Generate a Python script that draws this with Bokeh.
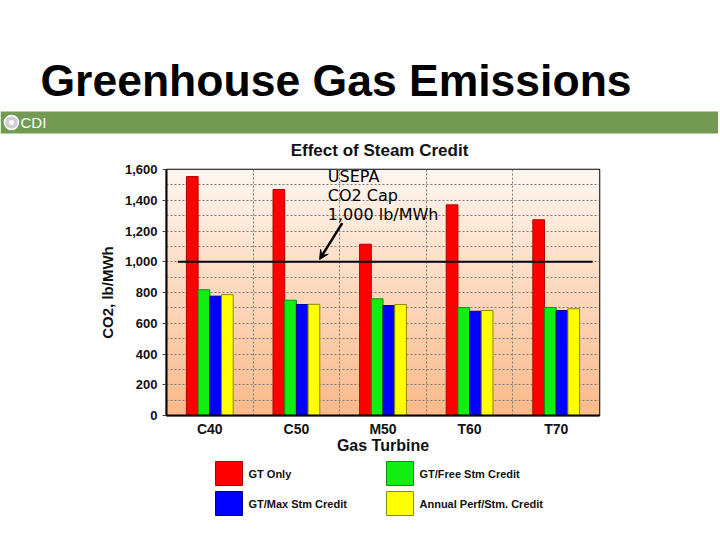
import numpy as np
from bokeh.plotting import figure
from bokeh.layouts import column
from bokeh.models import (Range1d, ColumnDataSource, Label, Arrow,
                          VeeHead, FixedTicker, NumeralTickFormatter)
from bokeh.transform import dodge
from bokeh.core.properties import value
from bokeh.embed import file_html
from bokeh.resources import INLINE

# ---------------- data ----------------
categories = ["C40", "C50", "M50", "T60", "T70"]
series_names = ["GT Only", "GT/Free Stm Credit", "GT/Max Stm Credit", "Annual Perf/Stm. Credit"]
gt_only = [1554, 1470, 1114, 1370, 1273]
gt_free_stm = [818, 750, 759, 702, 702]
gt_max_stm = [776, 722, 715, 678, 683]
annual_perf = [786, 723, 722, 683, 694]
y_ticks = [0, 200, 400, 600, 800, 1000, 1200, 1400, 1600]
cap_value = 1000
cap_text = ["USEPA", "CO2 Cap", "1,000 lb/MWh"]

FONT = "Liberation Sans"
GFONT = value(FONT)
W = 718

fills = ["#ff0000", "#11ee11", "#0000ff", "#ffff00"]
lines = ["#b00000", "#109010", "#000090", "#8a8a00"]

# ---------------- header ----------------
h = figure(width=W, height=160, x_range=Range1d(0, W), y_range=Range1d(0, 160),
           min_border=0, toolbar_location=None, output_backend="svg",
           x_axis_location=None, y_axis_location=None, outline_line_color=None,
           frame_align=False)
h.grid.visible = False
h.text(x=[40], y=[80], text=["Greenhouse Gas Emissions"], text_font=GFONT,
       text_font_size="44.5px", text_font_style="bold", text_baseline="middle",
       text_color="black")
h.quad(left=[0], right=[W], bottom=[27], top=[49], fill_color="#739a52", line_color=None)
h.scatter(x=[11], y=[38], size=14, marker="circle", fill_color="#d0d0d0",
          line_color="white", line_width=1.5)
h.scatter(x=[11], y=[38], size=5, marker="circle", fill_color="white", line_color=None)
h.text(x=[20], y=[38], text=["CDI"], text_font=GFONT, text_font_size="15px",
       text_baseline="middle", text_color="white")
h.text(x=[379], y=[10], text=["Effect of Steam Credit"], text_font=GFONT,
       text_font_size="17px", text_font_style="bold", text_baseline="middle",
       text_align="center", text_color="#111111")

# ---------------- main chart ----------------
p = figure(width=W, height=298, x_range=Range1d(-0.5, 4.5), y_range=Range1d(0, 1600),
           min_border_left=166, min_border_right=119, min_border_top=9, min_border_bottom=43,
           toolbar_location=None, output_backend="svg", outline_line_color="black",
           outline_line_width=1.5, border_fill_color="white")

# gradient background
n = 256
t = np.linspace(0, 1, n)
bottom_c = np.array([250, 186, 138])
top_c = np.array([255, 247, 240])
img = np.zeros((n, 1), dtype=np.uint32)
view = img.view(dtype=np.uint8).reshape((n, 1, 4))
cols = (bottom_c[None, :] * (1 - t[:, None]) + top_c[None, :] * t[:, None]).astype(np.uint8)
view[:, 0, 0] = cols[:, 0]
view[:, 0, 1] = cols[:, 1]
view[:, 0, 2] = cols[:, 2]
view[:, 0, 3] = 255
bg = p.image_rgba(image=[img], x=-0.5, y=0, dw=5, dh=1600)
bg.level = "image"

source = ColumnDataSource(dict(x=list(range(len(categories))), gt_only=gt_only,
                               gt_free=gt_free_stm, gt_max=gt_max_stm, annual=annual_perf))
fields = ["gt_only", "gt_free", "gt_max", "annual"]
bw = 0.135
offsets = [-1.5 * bw, -0.5 * bw, 0.5 * bw, 1.5 * bw]
for f, fc, lc, off in zip(fields, fills, lines, offsets):
    p.vbar(x=dodge("x", off, range=p.x_range), top=f, width=bw, source=source,
           fill_color=fc, line_color=lc, line_width=1)

# cap line
p.segment(x0=[-0.37], x1=[4.42], y0=[cap_value], y1=[cap_value], line_color="black", line_width=2)

# annotation text and arrow
for txt, yy in zip(cap_text, [1554, 1431, 1307]):
    p.add_layout(Label(x=1.363, y=yy, text=txt, text_font="DejaVu Sans",
                       text_font_size="16px", text_baseline="middle", text_color="black"))
p.add_layout(Arrow(x_start=1.529, y_start=1251, x_end=1.268, y_end=cap_value + 15,
                   line_width=2.5, line_color="black",
                   end=VeeHead(size=9, fill_color="black", line_color="black")))

# axes
p.xaxis.ticker = FixedTicker(ticks=list(range(len(categories))))
p.xaxis.major_label_overrides = {i: c for i, c in enumerate(categories)}
p.xaxis.major_tick_line_color = None
p.xaxis.major_tick_out = 0
p.xaxis.major_tick_in = 0
p.xaxis.minor_tick_line_color = None
p.xaxis.axis_line_color = "black"
p.xaxis.axis_line_width = 2
p.xaxis.major_label_text_font = FONT
p.xaxis.major_label_text_font_size = "14px"
p.xaxis.major_label_text_font_style = "bold"
p.xaxis.major_label_text_color = "#111111"
p.xaxis.major_label_standoff = 5
p.xaxis.axis_label = "Gas Turbine"
p.xaxis.axis_label_text_font = FONT
p.xaxis.axis_label_text_font_size = "16px"
p.xaxis.axis_label_text_font_style = "bold"
p.xaxis.axis_label_text_color = "#111111"
p.xaxis.axis_label_standoff = -3

p.yaxis.ticker = FixedTicker(ticks=y_ticks)
p.yaxis.formatter = NumeralTickFormatter(format="0,0")
p.yaxis.minor_tick_line_color = None
p.yaxis.major_tick_in = 0
p.yaxis.major_tick_out = 4
p.yaxis.major_tick_line_color = "#444444"
p.yaxis.axis_line_color = "black"
p.yaxis.axis_line_width = 2
p.yaxis.major_label_text_font = FONT
p.yaxis.major_label_text_font_size = "13px"
p.yaxis.major_label_text_font_style = "bold"
p.yaxis.major_label_text_color = "#111111"
p.yaxis.major_label_standoff = 5
p.yaxis.axis_label = "CO2, lb/MWh"
p.yaxis.axis_label_text_font = FONT
p.yaxis.axis_label_text_font_size = "15px"
p.yaxis.axis_label_text_font_style = "bold"
p.yaxis.axis_label_text_color = "#111111"
p.yaxis.axis_label_standoff = 6

# grids
p.xgrid.ticker = FixedTicker(ticks=[0.5, 1.5, 2.5, 3.5])
p.ygrid.ticker = FixedTicker(ticks=list(range(100, 1600, 100)))
for g in (p.xgrid, p.ygrid):
    g.grid_line_color = "#7a7a7a"
    g.grid_line_dash = "2 2"
    g.grid_line_width = 1

# ---------------- legend ----------------
lg = figure(width=W, height=80, x_range=Range1d(0, W), y_range=Range1d(0, 80),
            min_border=0, toolbar_location=None, output_backend="svg",
            x_axis_location=None, y_axis_location=None, outline_line_color=None,
            frame_align=False)
lg.grid.visible = False
sw_left = [215, 386, 215, 386]
sw_top = [77, 77, 47, 47]
lg.quad(left=sw_left, right=[l + 27 for l in sw_left], top=sw_top, bottom=[tp - 24 for tp in sw_top],
        fill_color=fills, line_color=lines, line_width=1)
lg.text(x=[l + 33 for l in sw_left], y=[tp - 12 for tp in sw_top], text=series_names,
        text_font=GFONT, text_font_size="11px", text_font_style="bold",
        text_baseline="middle", text_color="#111111")

layout = column(h, p, lg)
open("out.html", "w").write(file_html(layout, INLINE))
